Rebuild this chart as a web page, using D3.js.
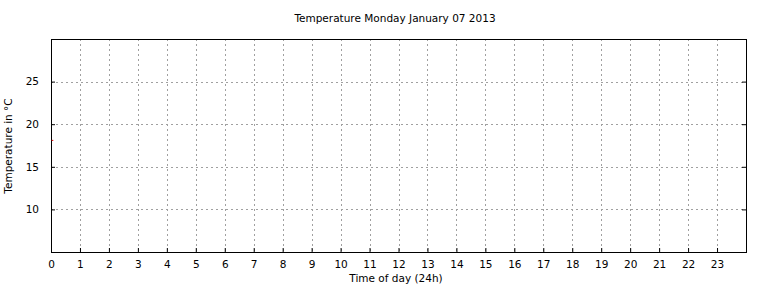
<!doctype html>
<html>
<head>
<meta charset="utf-8"/>
<script src="https://cdnjs.cloudflare.com/ajax/libs/d3/7.8.5/d3.min.js"></script>
<style>
  body { margin: 0; background: #fff; }
  svg { display: block; font-family: "DejaVu Sans", sans-serif; font-size: 10.5px; }
</style>
</head>
<body>
<svg width="768" height="288"></svg>
<script>
// data: only one reading, just after midnight
var hours = [0.02, 0.08];
var temps = [18.1, 18.1];
var xTicks = d3.range(0, 24);
var yTicks = [10, 15, 20, 25];

var svg = d3.select("svg");
var plotL = 51, plotR = 746, plotT = 39, plotB = 252;

var x = d3.scaleLinear().domain([0, 24]).range([plotL, plotR]);
var y = d3.scaleLinear().domain([5, 30]).range([plotB, plotT]);

// grid
svg.append("g").selectAll("line").data(xTicks.slice(1)).enter().append("line")
  .attr("x1", d => Math.round(x(d)) + 0.5).attr("x2", d => Math.round(x(d)) + 0.5)
  .attr("y1", plotT).attr("y2", plotB)
  .attr("stroke", "#a0a0a0").attr("stroke-dasharray", "2,3");
svg.append("g").selectAll("line").data(yTicks).enter().append("line")
  .attr("y1", d => Math.round(y(d)) + 0.5).attr("y2", d => Math.round(y(d)) + 0.5)
  .attr("x1", plotL).attr("x2", plotR)
  .attr("stroke", "#a0a0a0").attr("stroke-dasharray", "2,3");

// axes, ticks pointing inward like gnuplot
var xAxis = svg.append("g").attr("transform", "translate(0," + plotB + ")")
  .call(d3.axisBottom(x).tickValues(xTicks).tickSize(-4).tickPadding(9).tickFormat(d3.format("d")));
var yAxis = svg.append("g").attr("transform", "translate(" + plotL + ",0)")
  .call(d3.axisLeft(y).tickValues(yTicks).tickSize(-4).tickPadding(12).tickFormat(d3.format("d")));
svg.append("g").attr("transform", "translate(" + plotR + ",0)")
  .call(d3.axisRight(y).tickValues(yTicks).tickSize(-4).tickFormat(""));
[xAxis, yAxis].forEach(g => {
  g.selectAll("text").attr("font-family", "DejaVu Sans").attr("font-size", 10.5).attr("fill", "#000");
});
svg.selectAll(".domain").remove();

svg.append("rect").attr("x", plotL + 0.5).attr("y", plotT + 0.5)
  .attr("width", plotR - plotL).attr("height", plotB - plotT)
  .attr("fill", "none").attr("stroke", "#000");

// series
svg.append("path").datum(hours.map((h, i) => [h, temps[i]]))
  .attr("d", d3.line().x(d => x(d[0])).y(d => y(d[1])))
  .attr("fill", "none").attr("stroke", "#e00000").attr("stroke-width", 1);

// text
svg.append("text").attr("x", 395).attr("y", 22).attr("text-anchor", "middle")
  .text("Temperature Monday January 07 2013");
svg.append("text").attr("x", 396).attr("y", 282).attr("text-anchor", "middle")
  .text("Time of day (24h)");
svg.append("text").attr("transform", "translate(12,146) rotate(-90)").attr("text-anchor", "middle")
  .text("Temperature in °C");
</script>
</body>
</html>
